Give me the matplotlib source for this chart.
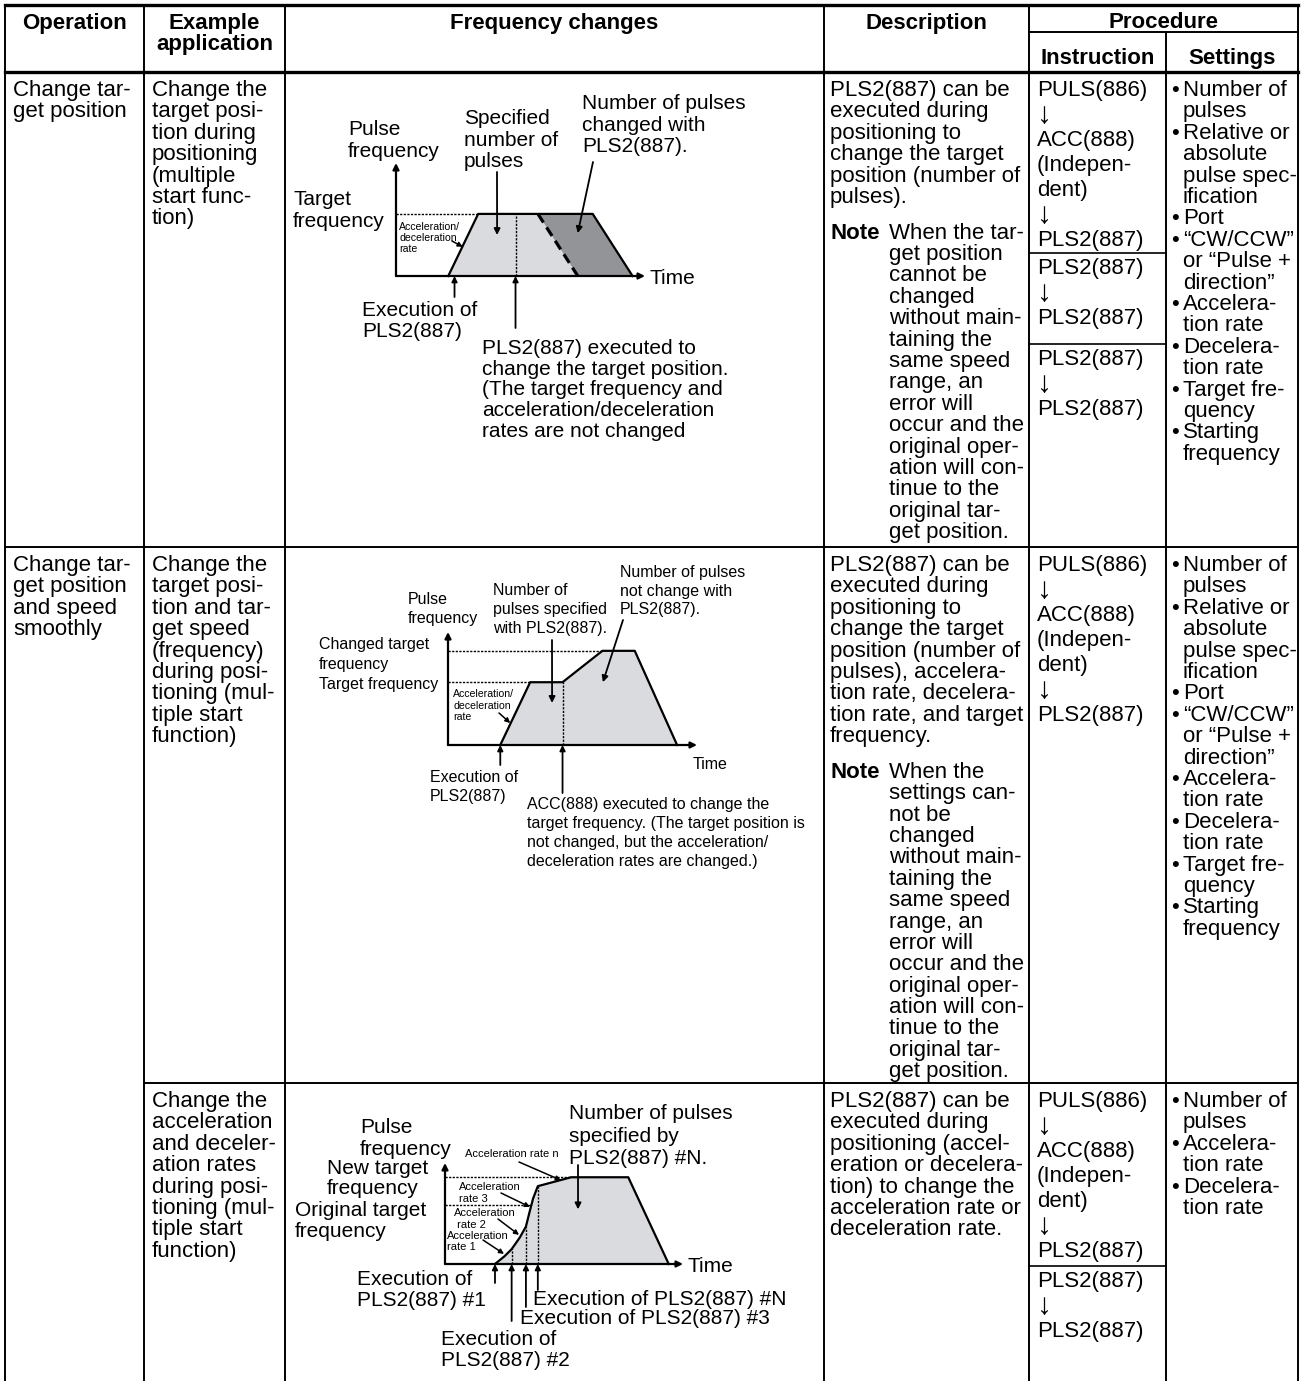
import numpy as np
import matplotlib.pyplot as plt
from matplotlib.transforms import blended_transform_factory

plt.rcParams['font.family'] = ['Liberation Sans', 'DejaVu Sans']

# ---------------- table content ----------------
operation_text = [
    ['Change tar-', 'get position'],
    ['Change tar-', 'get position', 'and speed', 'smoothly'],
]
example_text = [
    ['Change the', 'target posi-', 'tion during', 'positioning', '(multiple', 'start func-', 'tion)'],
    ['Change the', 'target posi-', 'tion and tar-', 'get speed', '(frequency)', 'during posi-',
     'tioning (mul-', 'tiple start', 'function)'],
    ['Change the', 'acceleration', 'and deceler-', 'ation rates', 'during posi-', 'tioning (mul-',
     'tiple start', 'function)'],
]
note_lines = ['without main-', 'taining the', 'same speed', 'range, an', 'error will',
              'occur and the', 'original oper-', 'ation will con-', 'tinue to the',
              'original tar-', 'get position.']
desc_main = [
    ['PLS2(887) can be', 'executed during', 'positioning to', 'change the target',
     'position (number of', 'pulses).'],
    ['PLS2(887) can be', 'executed during', 'positioning to', 'change the target',
     'position (number of', 'pulses), accelera-', 'tion rate, decelera-', 'tion rate, and target',
     'frequency.'],
    ['PLS2(887) can be', 'executed during', 'positioning (accel-', 'eration or decelera-',
     'tion) to change the', 'acceleration rate or', 'deceleration rate.'],
]
desc_note = [
    ['When the tar-', 'get position', 'cannot be', 'changed'] + note_lines,
    ['When the', 'settings can-', 'not be', 'changed'] + note_lines,
    None,
]
seq_full = ['PULS(886)', '↓', 'ACC(888)', '(Indepen-', 'dent)', '↓', 'PLS2(887)']
seq_short = ['PLS2(887)', '↓', 'PLS2(887)']
instr_groups = [
    [seq_full, seq_short, seq_short],
    [seq_full],
    [seq_full, seq_short],
]
settings_full = ['•Number of', 'pulses', '•Relative or', 'absolute', 'pulse spec-', 'ification',
                 '•Port', '•“CW/CCW”', 'or “Pulse +', 'direction”', '•Accelera-', 'tion rate',
                 '•Decelera-', 'tion rate', '•Target fre-', 'quency', '•Starting', 'frequency']
settings_short = ['•Number of', 'pulses', '•Accelera-', 'tion rate', '•Decelera-', 'tion rate']
settings_text = [settings_full, settings_full, settings_short]

# ---------------- diagram data (time units, frequency in % of target) ----------------
# 1: change target position
d1_t = [21, 33, 79, 95]
d1_f = [0, 100, 100, 0]
d1_new_end = [57, 73]          # original end of pulses (top, bottom)
d1_exec_t = [23.5, 48]
d1_target = 100

# 2: change target position and speed
d2_t = [21, 33, 46, 62, 75, 92]
d2_f = [0, 100, 100, 150, 150, 0]
d2_exec_t = [21, 46]
d2_target = 100
d2_changed = 150

# 3: change acceleration rates
d3_t = [21, 25, 28, 31.5, 34, 35.5, 37, 39, 53, 77, 94]
d3_f = [0, 13, 25, 45, 63, 87, 110, 131, 146, 146, 0]
d3_exec_t = [21, 28, 34, 39]
d3_exec_f = [0, 25, 63, 131]
d3_orig = 100
d3_new = 146

LIGHT = '#d9dbdf'
DARK = '#929497'

# ---------------- page layout ----------------
W, H = 1301, 1381
col_x = [5, 144, 285, 824, 1029, 1166, 1298]
y_top, y_sub, y_head = 5, 32, 72
row_y = [72, 547, 1083]
instr_split = [[253, 344], [], [1266]]
LS = 21.4
ILS = 25
FS = 16

fig = plt.figure(figsize=(W / 100, H / 100), dpi=100)
ax = fig.add_axes([0, 0, 1, 1])
ax.set_xlim(0, W)
ax.set_ylim(H, 0)
ax.axis('off')


def hline(y, x0, x1, lw=1.4):
    ax.plot([x0, x1], [y, y], color='k', lw=lw, solid_capstyle='projecting')


def vline(x, y0, y1, lw=1.4):
    ax.plot([x, x], [y0, y1], color='k', lw=lw, solid_capstyle='butt')


def put(lines, x, y0, step=LS, size=FS, weight='normal', ha='left'):
    for i, s in enumerate(lines):
        if s == '↓':
            # thin, tall arrow as in the manual's symbol font
            ax.text(x - 1, y0 + i * step + 2, s, fontsize=size * 1.35, ha=ha, va='baseline')
        else:
            ax.text(x, y0 + i * step, s, fontsize=size, fontweight=weight, ha=ha, va='baseline')


# grid
for x in col_x[:5] + [col_x[6]]:
    vline(x, y_top, H)
vline(col_x[5], y_sub, H)
hline(y_top, col_x[0], col_x[6], lw=2.4)
hline(y_sub, col_x[4], col_x[6])
hline(y_head, col_x[0], col_x[6], lw=2.4)
hline(row_y[1], col_x[0], col_x[6])
hline(row_y[2], col_x[1], col_x[6])
for r, splits in enumerate(instr_split):
    for y in splits:
        hline(y, col_x[4], col_x[5], lw=1.2)

# header
mid = lambda i, j: (col_x[i] + col_x[j]) / 2
put(['Operation'], mid(0, 1), 29, weight='bold', ha='center')
put(['Example', 'application'], mid(1, 2), 29, step=21, weight='bold', ha='center')
put(['Frequency changes'], mid(2, 3), 29, weight='bold', ha='center')
put(['Description'], mid(3, 4), 29, weight='bold', ha='center')
put(['Procedure'], mid(4, 6), 28, weight='bold', ha='center')
put(['Instruction'], mid(4, 5), 64, weight='bold', ha='center')
put(['Settings'], mid(5, 6), 64, weight='bold', ha='center')

# body
for r in range(3):
    y0 = row_y[r] + 24
    if r < 2:
        put(operation_text[r], 13, y0)
    put(example_text[r], 152, y0)
    put(desc_main[r], 830, y0)
    if desc_note[r] is not None:
        yn = y0 + (len(desc_main[r]) - 1) * LS + 35.5
        put(['Note'], 830, yn, weight='bold')
        put(desc_note[r], 889, yn)
    starts = [y0] + [s + 21 for s in instr_split[r]]
    for g, ys in zip(instr_groups[r], starts):
        put(g, 1037, ys, step=ILS)
    for i, s in enumerate(settings_text[r]):
        y = y0 + i * LS
        if s.startswith('•'):
            ax.text(1171, y, '•', fontsize=FS, va='baseline')
            ax.text(1183, y, s[1:], fontsize=FS, va='baseline')
        else:
            ax.text(1183, y, s, fontsize=FS, va='baseline')


# ---------------- diagrams ----------------
def diagram_axes(box, ymax):
    x0, y0, x1, y1 = box
    a = fig.add_axes([x0 / W, 1 - y1 / H, (x1 - x0) / W, (y1 - y0) / H])
    a.set_xlim(0, 100)
    a.set_ylim(0, ymax)
    a.axis('off')
    return a


def axis_arrows(a, ymax):
    kw = dict(arrowstyle='-|>', color='k', lw=1.6, mutation_scale=9, shrinkA=0, shrinkB=0)
    a.annotate('', xy=(100, 0), xytext=(0, 0), arrowprops=kw, annotation_clip=False)
    a.annotate('', xy=(0, ymax), xytext=(0, 0), arrowprops=kw, annotation_clip=False)


def pointer(a, xy, tail, lw=1.3, ms=9):
    a.annotate('', xy=xy, xycoords='data', xytext=tail, textcoords=ax.transData,
               arrowprops=dict(arrowstyle='-|>', color='k', lw=lw, mutation_scale=ms,
                               shrinkA=0, shrinkB=0), annotation_clip=False)


def exec_arrow(a, t, f, tail_y, lw=1.3, ms=8):
    tr = blended_transform_factory(a.transData, ax.transData)
    a.annotate('', xy=(t, f), xycoords='data', xytext=(t, tail_y), textcoords=tr,
               arrowprops=dict(arrowstyle='-|>', color='k', lw=lw, mutation_scale=ms,
                               shrinkA=0, shrinkB=0), annotation_clip=False)


dots = dict(color='k', lw=1.0, dashes=(1.6, 1.0), clip_on=False)

# diagram 1
a1 = diagram_axes((396, 163, 645, 276), 182)
a1.fill([d1_t[0], d1_t[1], d1_new_end[0], d1_new_end[1]], [0, d1_target, d1_target, 0],
        color=LIGHT, lw=0)
a1.fill([d1_new_end[0], d1_t[2], d1_t[3], d1_new_end[1]], [d1_target, d1_target, 0, 0],
        color=DARK, lw=0)
a1.plot(d1_t, d1_f, color='k', lw=1.6, clip_on=False)
a1.plot(d1_new_end, [d1_target, 0], color='k', lw=2.3, dashes=(3.2, 1.8))
a1.plot([0, d1_t[1]], [d1_target] * 2, **dots)
a1.plot([d1_exec_t[1]] * 2, [0, d1_target], **dots)
axis_arrows(a1, 182)
F1 = 15
put(['Pulse', 'frequency'], 348, 135, step=22, size=F1)
put(['Target', 'frequency'], 293, 205, step=22, size=F1)
put(['Specified', 'number of', 'pulses'], 464, 124, step=21.5, size=F1)
put(['Number of pulses', 'changed with', 'PLS2(887).'], 582, 109, step=21.5, size=F1)
put(['Time'], 650, 284, size=F1)
put(['Execution of', 'PLS2(887)'], 362, 316, step=21, size=F1)
put(['PLS2(887) executed to', 'change the target position.', '(The target frequency and',
     'acceleration/deceleration', 'rates are not changed'], 482, 354, step=20.7, size=F1)
put(['Acceleration/', 'deceleration', 'rate'], 399, 230, step=11, size=7.6)
pointer(a1, (40.6, 66), (497, 172))
pointer(a1, (73, 69), (593, 162))
pointer(a1, (26.8, 47), (452, 241), lw=1.1, ms=7)
exec_arrow(a1, d1_exec_t[0], 0, 297)
exec_arrow(a1, d1_exec_t[1], 0, 328)

# diagram 2
a2 = diagram_axes((448, 632, 697, 745), 180)
a2.fill(d2_t, d2_f, color=LIGHT, lw=0)
a2.plot(d2_t, d2_f, color='k', lw=1.6, clip_on=False)
a2.plot([0, d2_t[1]], [d2_target] * 2, **dots)
a2.plot([0, d2_t[3]], [d2_changed] * 2, **dots)
a2.plot([d2_exec_t[1]] * 2, [0, d2_target], **dots)
axis_arrows(a2, 180)
F2 = 11.5
put(['Pulse', 'frequency'], 408, 604, step=19, size=F2)
put(['Changed target', 'frequency'], 319, 649, step=20, size=F2)
put(['Target frequency'], 319, 689, size=F2)
put(['Number of', 'pulses specified', 'with PLS2(887).'], 493, 595, step=19, size=F2)
put(['Number of pulses', 'not change with', 'PLS2(887).'], 620, 577, step=18.5, size=F2)
put(['Acceleration/', 'deceleration', 'rate'], 453, 697, step=11.5, size=7.6)
put(['Execution of', 'PLS2(887)'], 430, 782, step=19, size=F2)
put(['ACC(888) executed to change the', 'target frequency. (The target position is',
     'not changed, but the acceleration/', 'deceleration rates are changed.)'],
    527, 809, step=19, size=F2)
put(['Time'], 693, 769, size=F2)
pointer(a2, (41.8, 67), (552, 640))
pointer(a2, (62.2, 100), (623, 620))
pointer(a2, (25, 35), (499, 713), lw=1.1, ms=7)
exec_arrow(a2, d2_exec_t[0], 0, 765)
exec_arrow(a2, d2_exec_t[1], 0, 793)

# diagram 3
a3 = diagram_axes((445, 1163, 683, 1264), 170)
a3.fill(d3_t, d3_f, color=LIGHT, lw=0)
a3.plot(d3_t, d3_f, color='k', lw=1.6, clip_on=False)
a3.plot([0, 36], [d3_orig] * 2, **dots)
a3.plot([0, d3_t[8]], [d3_new] * 2, **dots)
for t, f in zip(d3_exec_t[1:], d3_exec_f[1:]):
    a3.plot([t, t], [0, f], **dots)
axis_arrows(a3, 170)
F3 = 15
put(['Pulse', 'frequency'], 360, 1133, step=22, size=F3)
put(['New target', 'frequency'], 327, 1174, step=20, size=F3)
put(['Original target', 'frequency'], 295, 1216, step=21, size=F3)
put(['Number of pulses', 'specified by', 'PLS2(887) #N.'], 569, 1119, step=22.5, size=F3)
put(['Time'], 687, 1272, size=F3)
put(['Acceleration rate n'], 465, 1157, size=8)
put(['Acceleration', 'rate 3'], 459, 1190, step=11.5, size=8)
put(['Acceleration', ' rate 2'], 454, 1216, step=12.5, size=8)
put(['Acceleration', 'rate 1'], 447, 1239, step=11.5, size=8)
put(['Execution of', 'PLS2(887) #1'], 357, 1285, step=21, size=F3)
put(['Execution of PLS2(887) #N'], 533, 1305, size=F3)
put(['Execution of PLS2(887) #3'], 520, 1324, size=F3)
put(['Execution of', 'PLS2(887) #2'], 441, 1345, step=21, size=F3)
pointer(a3, (48.7, 141), (519, 1162), lw=1.1, ms=7)
pointer(a3, (35.7, 96), (501, 1193), lw=1.1, ms=7)
pointer(a3, (31.1, 49), (498, 1219), lw=1.1, ms=7)
pointer(a3, (24.8, 17), (483, 1240), lw=1.1, ms=7)
pointer(a3, (55.9, 92), (578, 1165))
for t, tail in zip(d3_exec_t, [1283, 1321, 1307, 1290]):
    exec_arrow(a3, t, 0, tail)

fig.savefig('out.png', dpi=100)
